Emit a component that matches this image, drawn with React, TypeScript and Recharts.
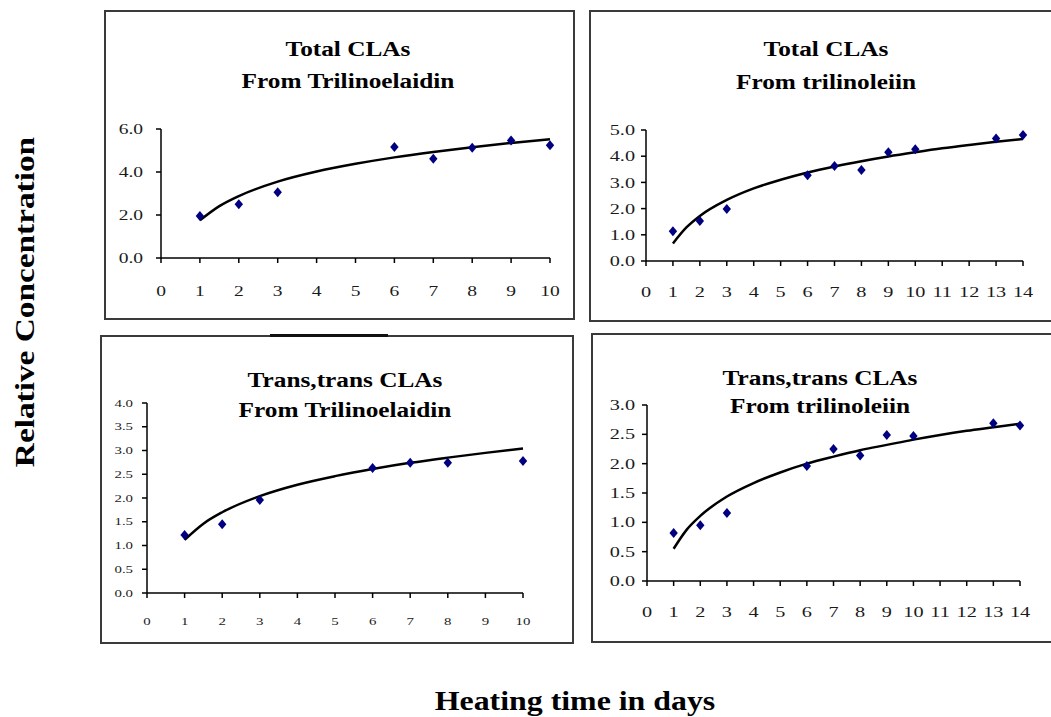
import React from 'react';
import { ComposedChart, Line, Scatter, XAxis, YAxis } from 'recharts';

const SERIF = '"Liberation Serif", "Times New Roman", serif';

// Panel: Total CLAs from Trilinoelaidin
const tlDays = [1, 2, 3, 6, 7, 8, 9, 10];
const tlValues = [1.95, 2.5, 3.06, 5.16, 4.62, 5.13, 5.47, 5.24];
const tlTrendDays = [1, 1.5, 2, 3, 4, 5, 6, 7, 8, 9, 10];
const tlTrend = [1.75, 2.41, 2.88, 3.55, 4.02, 4.38, 4.68, 4.93, 5.15, 5.35, 5.52];
const tlXTicks = [0, 1, 2, 3, 4, 5, 6, 7, 8, 9, 10];
const tlYTicks = [0, 2, 4, 6];

// Panel: Total CLAs from trilinoleiin
const trDays = [1, 2, 3, 6, 7, 8, 9, 10, 13, 14];
const trValues = [1.14, 1.53, 1.98, 3.27, 3.63, 3.47, 4.15, 4.27, 4.68, 4.81];
const trTrendDays = [1, 1.5, 2, 3, 4, 5, 6, 7, 8, 9, 10, 11, 12, 13, 14];
const trTrend = [0.67, 1.28, 1.72, 2.33, 2.77, 3.1, 3.38, 3.61, 3.81, 3.99, 4.15, 4.3, 4.43, 4.55, 4.66];
const trXTicks = [0, 1, 2, 3, 4, 5, 6, 7, 8, 9, 10, 11, 12, 13, 14];
const trYTicks = [0, 1, 2, 3, 4, 5];

// Panel: Trans,trans CLAs from Trilinoelaidin
const blDays = [1, 2, 3, 6, 7, 8, 10];
const blValues = [1.22, 1.45, 1.96, 2.63, 2.74, 2.74, 2.78];
const blTrendDays = [1, 1.5, 2, 3, 4, 5, 6, 7, 8, 9, 10];
const blTrend = [1.12, 1.46, 1.7, 2.04, 2.28, 2.46, 2.61, 2.74, 2.85, 2.95, 3.04];
const blXTicks = [0, 1, 2, 3, 4, 5, 6, 7, 8, 9, 10];
const blYTicks = [0, 0.5, 1, 1.5, 2, 2.5, 3, 3.5, 4];

// Panel: Trans,trans CLAs from trilinoleiin
const brDays = [1, 2, 3, 6, 7, 8, 9, 10, 13, 14];
const brValues = [0.82, 0.95, 1.16, 1.96, 2.25, 2.14, 2.49, 2.47, 2.69, 2.65];
const brTrendDays = [1, 1.5, 2, 3, 4, 5, 6, 7, 8, 9, 10, 11, 12, 13, 14];
const brTrend = [0.55, 0.88, 1.11, 1.44, 1.67, 1.85, 2.0, 2.12, 2.23, 2.32, 2.41, 2.49, 2.56, 2.62, 2.68];
const brXTicks = [0, 1, 2, 3, 4, 5, 6, 7, 8, 9, 10, 11, 12, 13, 14];
const brYTicks = [0, 0.5, 1, 1.5, 2, 2.5, 3];

const titles = [
  { lines: ['Total CLAs', 'From Trilinoelaidin'], cx: 348, base: [56, 88] },
  { lines: ['Total CLAs', 'From trilinoleiin'], cx: 826, base: [56, 89] },
  { lines: ['Trans,trans CLAs', 'From Trilinoelaidin'], cx: 345, base: [387, 417] },
  { lines: ['Trans,trans CLAs', 'From trilinoleiin'], cx: 820, base: [385, 413] },
];

type Box = { l: number; t: number; r: number; b: number };
type Plot = { l: number; t: number; r: number; b: number };
type TickStyle = { fs: number; sx: number; ygap: number; xoff: number };

const Diamond = (props: any) => {
  const { cx, cy } = props;
  if (cx == null || cy == null) return null;
  return (
    <polygon
      points={`${cx},${cy - 5} ${cx + 4.2},${cy} ${cx},${cy + 5} ${cx - 4.2},${cy}`}
      fill="#000080"
    />
  );
};

function makeYTick(ts: TickStyle) {
  return (props: any) => {
    const { x, y, payload } = props;
    const tx = x + 5 - ts.ygap;
    const ty = y + ts.fs * 0.34;
    return (
      <text
        transform={`translate(${tx},${ty}) scale(${ts.sx},1)`}
        textAnchor="end"
        fontSize={ts.fs}
        style={{ fontFamily: SERIF }}
        fill="#1a1a1a"
      >
        {Number(payload.value).toFixed(1)}
      </text>
    );
  };
}

function makeXTick(ts: TickStyle) {
  return (props: any) => {
    const { x, y, payload } = props;
    const ty = y - 5 + ts.xoff;
    return (
      <text
        transform={`translate(${x},${ty}) scale(${ts.sx},1)`}
        textAnchor="middle"
        fontSize={ts.fs}
        style={{ fontFamily: SERIF }}
        fill="#1a1a1a"
      >
        {String(payload.value)}
      </text>
    );
  };
}

function Panel(p: {
  box: Box;
  plot: Plot;
  days: number[];
  values: number[];
  trendDays: number[];
  trend: number[];
  xTicks: number[];
  yTicks: number[];
  ts: TickStyle;
}) {
  const { box, plot } = p;
  const W = box.r - box.l;
  const H = box.b - box.t;
  const yAxisW = 40;
  const xAxisH = 30;
  const margin = {
    left: plot.l - box.l - yAxisW,
    right: box.r - plot.r,
    top: plot.t - box.t,
    bottom: box.b - plot.b - xAxisH,
  };
  const points = p.days.map((d, i) => ({ x: d, y: p.values[i] }));
  const trendData = p.trendDays.map((d, i) => ({ x: d, y: p.trend[i] }));
  const xMax = p.xTicks[p.xTicks.length - 1];
  const yMax = p.yTicks[p.yTicks.length - 1];
  return (
    <>
      <div
        style={{
          position: 'absolute',
          left: box.l - 1,
          top: box.t - 1,
          width: W + 2,
          height: H + 2,
          border: '2px solid #3a3a3a',
          boxSizing: 'border-box',
          background: '#fff',
        }}
      />
      <div style={{ position: 'absolute', left: box.l, top: box.t }}>
        <ComposedChart width={W} height={H} margin={margin}>
          <XAxis
            type="number"
            dataKey="x"
            domain={[0, xMax]}
            ticks={p.xTicks}
            interval={0}
            height={xAxisH}
            tickSize={5}
            tickMargin={0}
            axisLine={{ stroke: '#000', strokeWidth: 1.5 }}
            tickLine={{ stroke: '#000', strokeWidth: 1.5 }}
            tick={makeXTick(p.ts)}
          />
          <YAxis
            type="number"
            dataKey="y"
            domain={[0, yMax]}
            ticks={p.yTicks}
            interval={0}
            width={yAxisW}
            tickSize={5}
            tickMargin={0}
            axisLine={{ stroke: '#000', strokeWidth: 1.5 }}
            tickLine={{ stroke: '#000', strokeWidth: 1.5 }}
            tick={makeYTick(p.ts)}
          />
          <Line
            data={trendData}
            dataKey="y"
            type="monotone"
            stroke="#000"
            strokeWidth={2.5}
            dot={false}
            activeDot={false}
            isAnimationActive={false}
          />
          <Scatter data={points} dataKey="y" fill="#000080" shape={Diamond} isAnimationActive={false} />
        </ComposedChart>
      </div>
    </>
  );
}

export default function App() {
  return (
    <div
      style={{
        position: 'absolute',
        left: 0,
        top: 0,
        width: 1051,
        height: 717,
        overflow: 'hidden',
        background: '#fff',
        fontFamily: SERIF,
      }}
    >
      <Panel
        box={{ l: 105, t: 11, r: 574, b: 319 }}
        plot={{ l: 161, t: 129, r: 550, b: 258 }}
        days={tlDays}
        values={tlValues}
        trendDays={tlTrendDays}
        trend={tlTrend}
        xTicks={tlXTicks}
        yTicks={tlYTicks}
        ts={{ fs: 15, sx: 1.3, ygap: 18, xoff: 38 }}
      />
      <Panel
        box={{ l: 590, t: 11, r: 1058, b: 321 }}
        plot={{ l: 646, t: 130, r: 1023, b: 261 }}
        days={trDays}
        values={trValues}
        trendDays={trTrendDays}
        trend={trTrend}
        xTicks={trXTicks}
        yTicks={trYTicks}
        ts={{ fs: 15, sx: 1.35, ygap: 11, xoff: 36 }}
      />
      <Panel
        box={{ l: 101, t: 336, r: 573, b: 643 }}
        plot={{ l: 147, t: 403, r: 523, b: 593 }}
        days={blDays}
        values={blValues}
        trendDays={blTrendDays}
        trend={blTrend}
        xTicks={blXTicks}
        yTicks={blYTicks}
        ts={{ fs: 11, sx: 1.35, ygap: 14, xoff: 32 }}
      />
      <Panel
        box={{ l: 592, t: 334, r: 1058, b: 642 }}
        plot={{ l: 647, t: 405, r: 1020, b: 581 }}
        days={brDays}
        values={brValues}
        trendDays={brTrendDays}
        trend={brTrend}
        xTicks={brXTicks}
        yTicks={brYTicks}
        ts={{ fs: 15, sx: 1.35, ygap: 12, xoff: 36 }}
      />
      <div style={{ position: 'absolute', left: 270, top: 334, width: 118, height: 3, background: '#111' }} />
      <svg
        width={1051}
        height={717}
        style={{ position: 'absolute', left: 0, top: 0, pointerEvents: 'none' }}
      >
        {titles.map((t, i) => (
          <g key={i}>
            {t.lines.map((line, j) => (
              <text
                key={j}
                transform={`translate(${t.cx},${t.base[j]}) scale(1.15,1)`}
                textAnchor="middle"
                fontSize={22}
                fontWeight="bold"
                style={{ fontFamily: SERIF }}
                fill="#000"
              >
                {line}
              </text>
            ))}
          </g>
        ))}
        <text
          transform="translate(34,302) rotate(-90) scale(1.19,1)"
          textAnchor="middle"
          fontSize={28}
          fontWeight="bold"
          style={{ fontFamily: SERIF }}
          fill="#000"
        >
          Relative Concentration
        </text>
        <text
          transform="translate(575,710) scale(1.18,1)"
          textAnchor="middle"
          fontSize={27}
          fontWeight="bold"
          style={{ fontFamily: SERIF }}
          fill="#000"
        >
          Heating time in days
        </text>
      </svg>
    </div>
  );
}
